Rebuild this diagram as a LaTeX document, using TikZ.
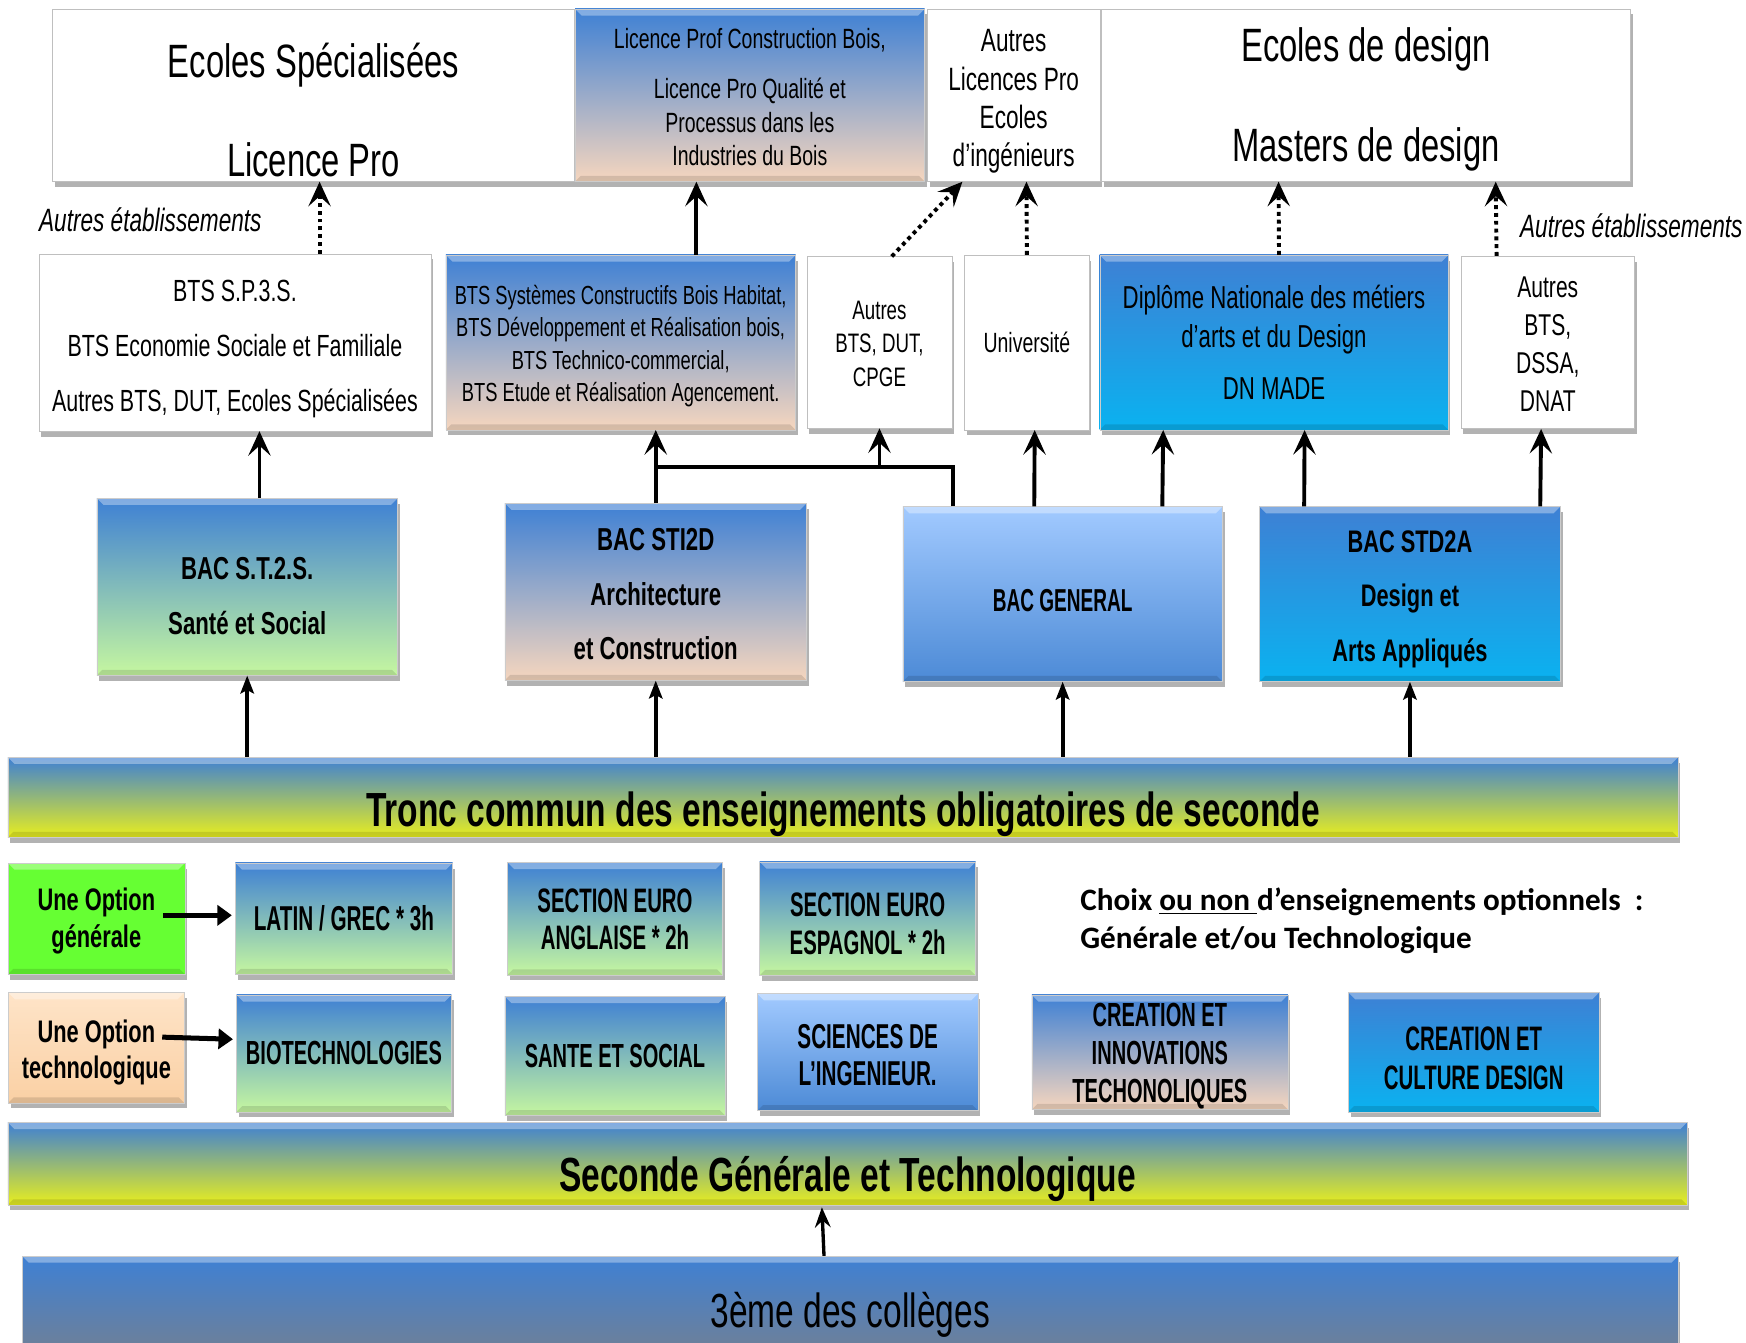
\documentclass[tikz,border=0pt]{standalone}
\usepackage{fontspec}
\setmainfont{Liberation Sans}[FakeStretch=0.7]
\newfontfamily\capsfont{Liberation Sans}[FakeStretch=0.6]
\newfontfamily\choixfont{Carlito}
\usepackage{tikz}
\usetikzlibrary{positioning,arrows.meta,shadows,calc}
\definecolor{colorblue}   {RGB}{62 ,128,212}
\definecolor{colorpeach}  {RGB}{246,214,190}
\definecolor{colorlgreen} {RGB}{198,247,160}
\definecolor{colorcyan}   {RGB}{10 ,178,240}
\definecolor{coloryellow} {RGB}{232,238,30 }
\definecolor{colorlblue}  {RGB}{162,202,255}
\definecolor{colormblue}  {RGB}{76 ,138,214}
\definecolor{colorgreen}  {RGB}{102,255,51 }
\definecolor{coloropt}    {RGB}{250,208,164}
\definecolor{coloroptl}   {RGB}{254,228,200}
\definecolor{colorslate}  {RGB}{112,128,150}
\newcommand{\liftby}[1]{\rule{0pt}{#1pt}}

\begin{document}
\begin{tikzpicture}[
    x=1pt, y=-1pt,
    base/.style={inner sep=0pt,align=center,text=black,rectangle,
        drop shadow={shadow xshift=2pt,shadow yshift=-5pt,opacity=.3,fill=black}},
    bevel/.style={path picture={
        \fill[white,opacity=.35] (path picture bounding box.north west) -- (path picture bounding box.north east)
            -- ([xshift=-6pt,yshift=-6pt]path picture bounding box.north east) -- ([xshift=6pt,yshift=-6pt]path picture bounding box.north west) -- cycle;
        \fill[black,opacity=.12] (path picture bounding box.south west) -- (path picture bounding box.south east)
            -- ([xshift=-5pt,yshift=5pt]path picture bounding box.south east) -- ([xshift=5pt,yshift=5pt]path picture bounding box.south west) -- cycle;}},
    whitebox/.style={base,fill=white,draw=black!25},
    bluegreen/.style={base,bevel,top color=colorblue,bottom color=colorlgreen,draw=black!20},
    bluepeach/.style={base,bevel,top color=colorblue,bottom color=colorpeach,draw=black!20},
    bluecyan/.style={base,bevel,top color=colorblue,bottom color=colorcyan,draw=black!20},
    paleblue/.style={base,bevel,top color=colorlblue,bottom color=colormblue,draw=black!20},
    bar/.style={base,bevel,top color=colorblue,bottom color=coloryellow,draw=black!20},
    txt/.style 2 args={font=\fontsize{#1}{#2}\selectfont},
    btxt/.style 2 args={font=\bfseries\fontsize{#1}{#2}\selectfont},
    ctxt/.style 2 args={font=\capsfont\bfseries\fontsize{#1}{#2}\selectfont},
    bigarrow/.style={line width=3.5pt,-{Stealth[length=22pt,width=20pt,inset=9pt]}},
    dotarrow/.style={bigarrow,dash pattern=on 3.5pt off 3.5pt},
    smallarrow/.style={line width=3.5pt,-{Stealth[length=16pt,width=12pt,inset=3pt]}},
    midarrow/.style={line width=3pt,-{Stealth[length=18pt,width=14pt,inset=6pt]}},
    optarrow/.style={line width=4.5pt,-{Triangle[length=13pt,width=18pt]}},
    link/.style={line width=3.5pt},
]
    \useasboundingbox (0,0) rectangle (1568,1206);

    % Top row
    \node[whitebox,minimum width=469pt,minimum height=155pt,txt={42}{89}] (ecoles) at (281.5,85.5)
        {\liftby{58}Ecoles Spécialisées\\Licence Pro};
    \node[bluepeach,minimum width=314pt,minimum height=155pt,txt={25}{30},right=0pt of ecoles] (licprof)
        {\liftby{22}Licence Prof Construction Bois,\\[15pt]Licence Pro Qualité et\\Processus dans les\\Industries du Bois};
    \node[whitebox,minimum width=155pt,minimum height=155pt,txt={29}{34.3},right=2pt of licprof] (autreslic)
        {\liftby{31}Autres\\Licences Pro\\Ecoles\\d’ingénieurs};
    \node[whitebox,minimum width=475pt,minimum height=155pt,txt={42}{90},right=1pt of autreslic] (design)
        {\liftby{38}Ecoles de design\\Masters de design};

    % Labels
    \node[font=\itshape\fontsize{29}{34}\selectfont] (autresg) at (135,197.5) {Autres établissements};
    \node[font=\itshape\fontsize{29}{34}\selectfont] (autresd) at (1465,202.5) {Autres établissements};

    % Second row
    \node[whitebox,minimum width=352pt,minimum height=159pt,txt={27.5}{49}] (bts1) at (211,307.5)
        {\liftby{31}BTS S.P.3.S.\\BTS Economie Sociale et Familiale\\Autres BTS, DUT, Ecoles Spécialisées};
    \node[bluepeach,minimum width=314pt,minimum height=157pt,txt={23.5}{29},right=13pt of bts1] (btsbois)
        {\liftby{24}BTS Systèmes Constructifs Bois Habitat,\\BTS Développement et Réalisation bois,\\BTS Technico-commercial,\\BTS Etude et Réalisation Agencement.};
    \node[whitebox,minimum width=130pt,minimum height=154pt,txt={24}{30},right=10pt of btsbois] (autresbts)
        {\liftby{19}Autres\\BTS, DUT,\\CPGE};
    \node[whitebox,minimum width=112pt,minimum height=157pt,txt={25}{30},right=11pt of autresbts] (univ) {Université};
    \node[bluecyan,minimum width=313pt,minimum height=157pt,txt={28.5}{35},right=9pt of univ] (dnmade)
        {Diplôme Nationale des métiers\\d’arts et du Design\\[12pt]DN MADE};
    \node[whitebox,minimum width=156pt,minimum height=155pt,txt={27}{34},right=11pt of dnmade] (autresdssa)
        {\liftby{22}Autres\\BTS,\\DSSA,\\DNAT};

    % BAC
    \node[bluegreen,minimum width=270pt,minimum height=159pt,btxt={28.5}{49}] (bacst2s) at (222,527)
        {\liftby{37}BAC S.T.2.S.\\Santé et Social};
    \node[bluepeach,minimum width=271pt,minimum height=159pt,btxt={28.5}{49},right=96pt of bacst2s,yshift=-4.5pt] (bacsti)
        {\liftby{24}BAC STI2D\\Architecture\\et Construction};
    \node[paleblue,minimum width=287pt,minimum height=157pt,ctxt={28.5}{34},right=86pt of bacsti,yshift=-2pt] (bacgen)
        {\liftby{32}BAC GENERAL};
    \node[bluecyan,minimum width=270pt,minimum height=157pt,btxt={28}{49},right=33pt of bacgen] (bacstd)
        {\liftby{29}BAC STD2A\\Design et\\Arts Appliqués};

    % Tronc commun
    \node[bar,minimum width=1500pt,minimum height=72pt,btxt={43}{50}] (tronc) at (757,716)
        {\liftby{62}Tronc commun des enseignements obligatoires de seconde};

    % Options
    \node[base,bevel,fill=colorgreen,draw=black!20,minimum width=159pt,minimum height=100pt,btxt={28}{33}] (optgen) at (86.5,825)
        {\liftby{25}Une Option\\générale};
    \node[bluegreen,minimum width=195pt,minimum height=100pt,ctxt={31}{36},right=45pt of optgen] (latin) {LATIN / GREC * 3h};
    \node[bluegreen,minimum width=193pt,minimum height=101pt,ctxt={30.5}{33},right=49pt of latin] (euroang)
        {\liftby{23}SECTION EURO\\ANGLAISE * 2h};
    \node[bluegreen,minimum width=194pt,minimum height=102pt,ctxt={30.5}{34},right=33pt of euroang] (euroesp)
        {\liftby{30}SECTION EURO\\ESPAGNOL * 2h};
    \node[base,bevel,top color=coloroptl,bottom color=coloropt,draw=black!20,minimum width=158pt,minimum height=99pt,btxt={28}{33},below=16pt of optgen] (opttech)
        {\liftby{29}Une Option\\technologique};
    \node[bluegreen,minimum width=193pt,minimum height=105pt,ctxt={30}{36},below=18pt of latin] (biotech) {BIOTECHNOLOGIES};
    \node[bluegreen,minimum width=198pt,minimum height=107pt,ctxt={30}{36},below=19pt of euroang] (sante) {SANTE ET SOCIAL};
    \node[paleblue,minimum width=198pt,minimum height=105pt,ctxt={31}{34},below=16pt of euroesp] (sciences)
        {\liftby{27}SCIENCES DE\\L’INGENIEUR.};
    \node[bluepeach,minimum width=230pt,minimum height=102pt,ctxt={30}{34.5},right=48pt of sciences] (cit)
        {\liftby{28}CREATION ET\\INNOVATIONS\\TECHONOLIQUES};
    \node[bluecyan,minimum width=225pt,minimum height=107pt,ctxt={30.5}{35},right=54pt of cit] (ccd)
        {\liftby{32}CREATION ET\\CULTURE DESIGN};

    % Choix
    \node[anchor=west,inner sep=0pt,align=left,font=\choixfont\bfseries\fontsize{28}{33.5}\selectfont] (choix) at (970,827)
        {Choix \underline{ou non\ }d’enseignements optionnels~~:\\Générale et/ou Technologique};

    % Seconde and 3eme
    \node[bar,minimum width=1508pt,minimum height=74pt,btxt={43}{50}] (seconde) at (761,1045)
        {\liftby{60}Seconde Générale et Technologique};
    \node[base,bevel,top color=colorblue,bottom color=colorslate,draw=black!20,minimum width=1487pt,minimum height=88pt,txt={43}{50}] (troisieme) at (763.5,1172)
        {\liftby{49}3ème des collèges};

    % Arrows to top row
    \draw[dotarrow] ([xshift=76pt]bts1.north) -- ([xshift=5.5pt]ecoles.south);
    \draw[bigarrow] ([xshift=68pt]btsbois.north) -- ([xshift=-48pt]licprof.south);
    \draw[dotarrow] ([xshift=11pt]autresbts.north) -- ([xshift=-46pt]autreslic.south);
    \draw[dotarrow] (univ.north) -- ([xshift=11.5pt]autreslic.south);
    \draw[dotarrow] ([xshift=4.5pt]dnmade.north) -- ([xshift=-78.5pt]design.south);
    \draw[dotarrow] ([xshift=-46pt]autresdssa.north) -- ([xshift=116.5pt]design.south);

    % Arrows from BAC
    \coordinate (jn) at ($(bacsti.north)!.5!(bacsti.north |- btsbois.south)$);
    \draw[bigarrow] ([xshift=11pt]bacst2s.north) -- ([xshift=22pt]bts1.south);
    \draw[bigarrow] (bacsti.north) -- ([xshift=31.5pt]btsbois.south);
    \draw[link] ([xshift=-98.5pt]bacgen.north) |- (jn);
    \draw[bigarrow] (jn -| autresbts.south) -- (autresbts.south);
    \draw[bigarrow] ([xshift=-25.5pt]bacgen.north) -- ([xshift=7pt]univ.south);
    \draw[bigarrow] ([xshift=89.5pt]bacgen.north) -- ([xshift=-99.5pt]dnmade.south);
    \draw[bigarrow] ([xshift=-95pt]bacstd.north) -- ([xshift=27.5pt]dnmade.south);
    \draw[bigarrow] ([xshift=117pt]bacstd.north) -- ([xshift=-6pt]autresdssa.south);

    % Arrows from tronc commun
    \draw[smallarrow] (tronc.north -| bacst2s.south) -- (bacst2s.south);
    \draw[smallarrow] (tronc.north -| bacsti.south) -- (bacsti.south);
    \draw[smallarrow] (tronc.north -| bacgen.south) -- (bacgen.south);
    \draw[smallarrow] (tronc.north -| bacstd.south) -- (bacstd.south);

    % Option arrows
    \draw[optarrow,shorten >=3pt] ([xshift=-20pt,yshift=3pt]optgen.east) -- ([yshift=3pt]latin.west);
    \draw[optarrow,shorten >=3pt] ([xshift=-20pt,yshift=9.5pt]opttech.east) -- ([yshift=12.5pt]biotech.west);

    % 3eme to seconde
    \draw[midarrow,shorten >=2pt] ([xshift=-23.5pt]troisieme.north) -- ([xshift=-23pt]seconde.south);

\end{tikzpicture}
\end{document}
